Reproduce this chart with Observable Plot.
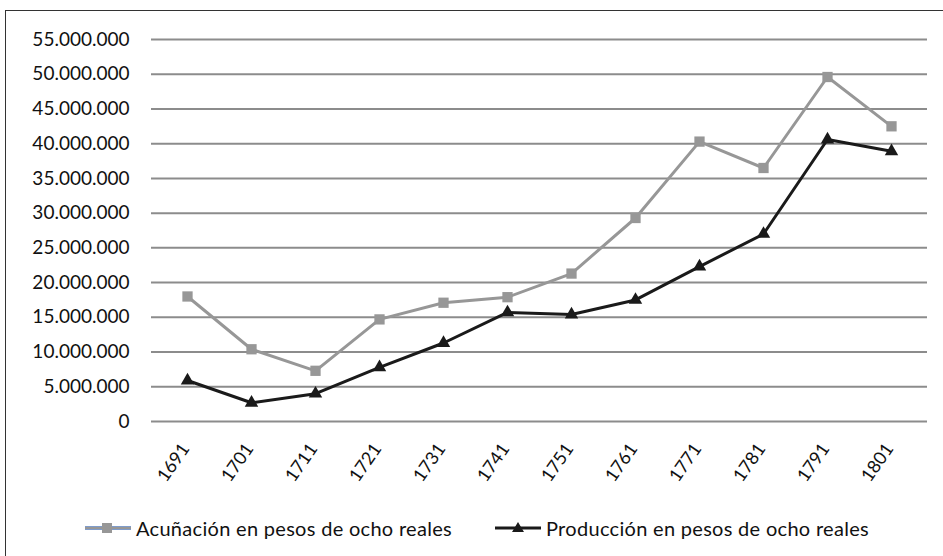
<!DOCTYPE html>
<html><head><meta charset="utf-8">
<script src="https://cdn.jsdelivr.net/npm/d3@7"></script>
<script src="https://cdn.jsdelivr.net/npm/@observablehq/plot@0.6"></script>
<style>
body{margin:0;background:#fff;font-family:Lato,sans-serif;overflow:hidden;}
#frame{position:absolute;left:5px;top:10px;width:945px;height:560px;border:1.5px solid #333;box-sizing:border-box;background:#fff;}
#chart{position:absolute;left:0;top:0;}
.leg{position:absolute;top:504px;height:26px;display:flex;align-items:center;font-size:20px;letter-spacing:0.3px;color:#111;white-space:nowrap;}
.leg svg{display:block;margin-right:4px;}
</style></head><body>
<div id="frame"><div id="chart"></div>
<div class="leg" id="leg1" style="left:78px"></div>
<div class="leg" id="leg2" style="left:488px"></div>
</div>
<script>
const years = ["1691","1701","1711","1721","1731","1741","1751","1761","1771","1781","1791","1801"];
const acunacion = [18.0e6, 10.4e6, 7.3e6, 14.7e6, 17.1e6, 17.9e6, 21.3e6, 29.3e6, 40.3e6, 36.5e6, 49.6e6, 42.5e6];
const produccion = [5.9e6, 2.7e6, 4.0e6, 7.8e6, 11.3e6, 15.7e6, 15.4e6, 17.5e6, 22.3e6, 27.0e6, 40.6e6, 38.9e6];
const yTicks = [0, 5e6, 10e6, 15e6, 20e6, 25e6, 30e6, 35e6, 40e6, 45e6, 50e6, 55e6];
const seriesNames = ["Acuñación en pesos de ocho reales", "Producción en pesos de ocho reales"];

const fmt = d3.formatLocale({decimal: ",", thousands: ".", grouping: [3], currency: ["", ""]}).format(",");
const dataA = years.map((y, i) => ({year: y, value: acunacion[i]}));
const dataP = years.map((y, i) => ({year: y, value: produccion[i]}));

const chart = Plot.plot({
  width: 925,
  height: 500,
  marginLeft: 145,
  marginRight: 4,
  marginTop: 28,
  marginBottom: 90,
  style: {fontFamily: "Lato, sans-serif", fontSize: "18px", color: "#111", background: "transparent", overflow: "visible"},
  x: {type: "point", domain: years, padding: 0.5, label: null},
  y: {domain: [0, 55e6], label: null},
  marks: [
    Plot.ruleY(yTicks, {stroke: "#8c8c8c", strokeWidth: 2}),
    Plot.axisY(yTicks, {tickSize: 0, tickPadding: 22, tickFormat: fmt, fontSize: 19, label: null}),
    Plot.axisX({tickSize: 0, tickRotate: -55, tickPadding: 24, dx: -2, fontSize: 18, label: null}),
    Plot.line(dataA, {x: "year", y: "value", stroke: "#979797", strokeWidth: 3}),
    Plot.dot(dataA, {x: "year", y: "value", symbol: "square", r: 5.8, fill: "#979797", stroke: "none"}),
    Plot.line(dataP, {x: "year", y: "value", stroke: "#1a1a1a", strokeWidth: 3}),
    Plot.dot(dataP, {x: "year", y: "value", symbol: "triangle", r: 5, fill: "#1a1a1a", stroke: "none"})
  ]
});
document.getElementById("chart").appendChild(chart);

function swatch(kind) {
  const ns = "http://www.w3.org/2000/svg";
  const s = document.createElementNS(ns, "svg");
  s.setAttribute("width", 48); s.setAttribute("height", 16);
  if (kind === "square") {
    s.innerHTML = '<line x1="1" y1="8" x2="47" y2="8" stroke="#7f9ccb" stroke-width="4"/>' +
      '<line x1="1" y1="8" x2="47" y2="8" stroke="#979797" stroke-width="2"/>' +
      '<rect x="18" y="3" width="10" height="10" fill="#979797"/>';
  } else {
    s.innerHTML = '<line x1="1" y1="8" x2="47" y2="8" stroke="#1a1a1a" stroke-width="3"/>' +
      '<path d="M24,2 L30,12 L18,12 Z" fill="#1a1a1a"/>';
  }
  return s;
}
const l1 = document.getElementById("leg1");
l1.appendChild(swatch("square")); l1.appendChild(document.createTextNode(seriesNames[0]));
const l2 = document.getElementById("leg2");
l2.appendChild(swatch("triangle")); l2.appendChild(document.createTextNode(seriesNames[1]));
</script>
</body></html>
